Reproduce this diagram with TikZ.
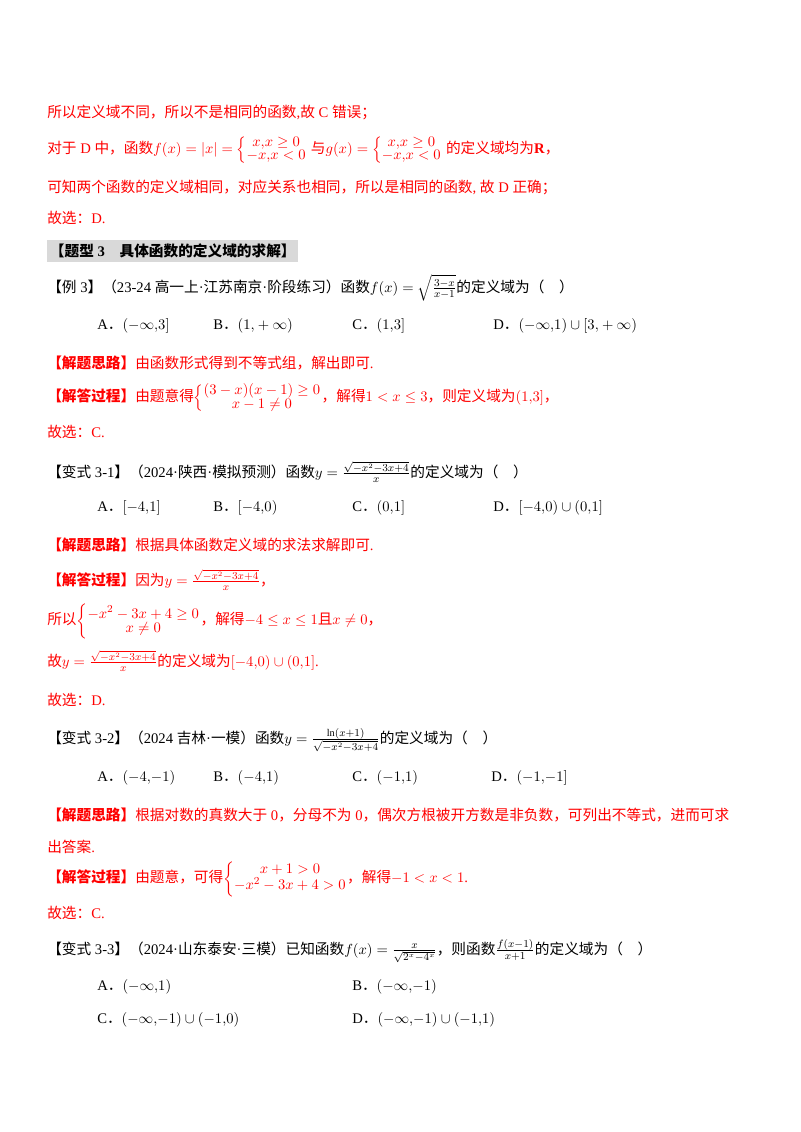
\documentclass[tikz,border=0pt]{standalone}
\usepackage{amsmath}
\usepackage{fontspec}
\setmainfont{Liberation Serif}
\newfontfamily\cjk{Noto Sans CJK SC}
% CJK characters switch to the CJK family
\XeTeXinterchartokenstate=1
\newXeTeXintercharclass\cjkclass
\count255="3000
\loop \XeTeXcharclass\count255=\cjkclass \ifnum\count255<"9FFF \advance\count255 by 1 \repeat
\count255="FF00
\loop \XeTeXcharclass\count255=\cjkclass \ifnum\count255<"FFEF \advance\count255 by 1 \repeat
\XeTeXinterchartoks 0 \cjkclass = {\begingroup\cjk}
\XeTeXinterchartoks 4095 \cjkclass = {\begingroup\cjk}
\XeTeXinterchartoks \cjkclass 0 = {\endgroup}
\XeTeXinterchartoks \cjkclass 4095 = {\endgroup}
\newcommand{\sys}[1]{{\renewcommand{\arraystretch}{0.75}\left\{\begin{array}{@{}c@{}}#1\end{array}\right.}}

\begin{document}
\begin{tikzpicture}[x=0.75pt,y=-0.75pt,
  txt/.style={anchor=west,inner sep=0pt,font=\fontsize{11}{13}\selectfont},
  ans/.style={txt,text=red},
  head/.style={txt,fill=gray!30,inner xsep=2pt,inner ysep=3pt,font=\fontsize{11}{13}\selectfont\bfseries}]
\useasboundingbox (0,0) rectangle (800,1132);

\node[ans] (l1) at (47,112) {所以定义域不同，所以不是相同的函数,故 C 错误；};
\node[ans] (l2) at (47,150) {对于 D 中，函数$f(x)=|x|=\sys{x{,}x\geq 0\\ -x{,}x<0}$ 与$g(x)=\sys{x{,}x\geq 0\\ -x{,}x<0}$ 的定义域均为\textbf{R}，};
\node[ans] (l3) at (47,187) {可知两个函数的定义域相同，对应关系也相同，所以是相同的函数, 故 D 正确；};
\node[ans] (l4) at (47,218) {故选：D.};
\node[head] (h3) at (47,251) {【题型 3\quad 具体函数的定义域的求解】};

\node[txt] (e3) at (47,288) {【例 3】（23-24 高一上·江苏南京·阶段练习）函数$f(x)=\sqrt{\tfrac{3-x}{x-1}}$的定义域为（\quad ）};
\node[txt] (e3a) at (97,326) {A．$(-\infty{,}3]$};
\node[txt] (e3b) at (213,326) {B．$(1{,}+\infty)$};
\node[txt] (e3c) at (352,326) {C．$(1{,}3]$};
\node[txt] (e3d) at (493,326) {D．$(-\infty{,}1)\cup[3{,}+\infty)$};
\node[ans] (e3s) at (47,363) {\textbf{【解题思路】}由函数形式得到不等式组，解出即可.};
\node[ans] (e3p) at (47,398) {\textbf{【解答过程】}由题意得$\sys{(3-x)(x-1)\geq 0\\ x-1\neq 0}$，解得$1<x\leq 3$，则定义域为$(1{,}3]$，};
\node[ans] (e3e) at (47,432) {故选：C.};

\node[txt] (v1) at (47,472) {【变式 3-1】（2024·陕西·模拟预测）函数$y=\tfrac{\sqrt{-x^2-3x+4}}{x}$的定义域为（\quad ）};
\node[txt] (v1a) at (97,508) {A．$[-4{,}1]$};
\node[txt] (v1b) at (213,508) {B．$[-4{,}0)$};
\node[txt] (v1c) at (352,508) {C．$(0{,}1]$};
\node[txt] (v1d) at (493,508) {D．$[-4{,}0)\cup(0{,}1]$};
\node[ans] (v1s) at (47,545) {\textbf{【解题思路】}根据具体函数定义域的求法求解即可.};
\node[ans] (v1p) at (47,580) {\textbf{【解答过程】}因为$y=\tfrac{\sqrt{-x^2-3x+4}}{x}$，};
\node[ans] (v1q) at (47,621) {所以$\sys{-x^2-3x+4\geq 0\\ x\neq 0}$，解得$-4\leq x\leq 1$且$x\neq 0$，};
\node[ans] (v1r) at (47,661) {故$y=\tfrac{\sqrt{-x^2-3x+4}}{x}$的定义域为$[-4{,}0)\cup(0{,}1]$.};
\node[ans] (v1e) at (47,700) {故选：D.};

\node[txt] (v2) at (47,740) {【变式 3-2】（2024 吉林·一模）函数$y=\tfrac{\ln(x+1)}{\sqrt{-x^2-3x+4}}$的定义域为（\quad ）};
\node[txt] (v2a) at (97,778) {A．$(-4{,}{-}1)$};
\node[txt] (v2b) at (213,778) {B．$(-4{,}1)$};
\node[txt] (v2c) at (352,778) {C．$(-1{,}1)$};
\node[txt] (v2d) at (491,778) {D．$(-1{,}{-}1]$};
\node[ans] (v2s) at (47,815) {\textbf{【解题思路】}根据对数的真数大于 0，分母不为 0，偶次方根被开方数是非负数，可列出不等式，进而可求};
\node[ans] (v2t) at (47,847) {出答案.};
\node[ans] (v2p) at (47,879) {\textbf{【解答过程】}由题意，可得$\sys{x+1>0\\ -x^2-3x+4>0}$，解得$-1<x<1$.};
\node[ans] (v2e) at (47,913) {故选：C.};

\node[txt] (v3) at (47,951) {【变式 3-3】（2024·山东泰安·三模）已知函数$f(x)=\tfrac{x}{\sqrt{2^x-4^x}}$，则函数$\tfrac{f(x-1)}{x+1}$的定义域为（\quad ）};
\node[txt] (v3a) at (97,987) {A．$(-\infty{,}1)$};
\node[txt] (v3b) at (352,987) {B．$(-\infty{,}{-}1)$};
\node[txt] (v3c) at (97,1020) {C．$(-\infty{,}{-}1)\cup(-1{,}0)$};
\node[txt] (v3d) at (352,1020) {D．$(-\infty{,}{-}1)\cup(-1{,}1)$};
\end{tikzpicture}
\end{document}
